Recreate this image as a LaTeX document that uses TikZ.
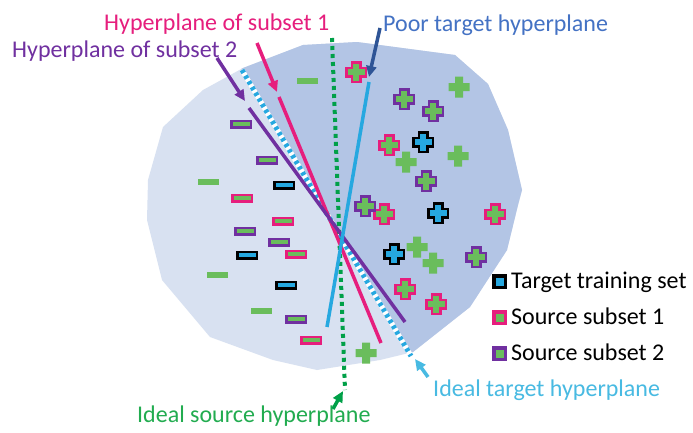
\documentclass[tikz,border=0pt]{standalone}
\usepackage{fontspec}
\setmainfont{Carlito}
\usetikzlibrary{arrows.meta}

\definecolor{blobl}{RGB}{216,225,241}
\definecolor{blobd}{RGB}{179,197,229}
\definecolor{ptgreen}{RGB}{106,189,92}
\definecolor{pinkc}{RGB}{230,30,125}
\definecolor{purplec}{RGB}{112,48,160}
\definecolor{skyc}{RGB}{38,168,224}
\definecolor{idealtc}{RGB}{72,186,226}
\definecolor{srcgreen}{RGB}{0,160,72}
\definecolor{srctext}{RGB}{34,172,80}
\definecolor{poorc}{RGB}{68,114,196}
\definecolor{poorarrow}{RGB}{46,84,150}

% outer outline of the data cloud
\newcommand\blobpath{(243,68) -- (303,45) -- (357,42) -- (455,55) -- (488,84) -- (508,130) -- (522,190) -- (518,205) -- (507,250) -- (470,307) -- (413,352) -- (380,360) -- (317,370) -- (273,360) -- (210,337) -- (162,280) -- (147,220) -- (148,180) -- (163,127) -- (203,90) -- cycle}

\tikzset{
  lbl/.style={inner sep=0pt, font=\fontsize{24}{28}\selectfont, anchor=base west},
  hyp/.style={line width=3.5pt},
  callout/.style={line width=3.5pt, -{Triangle[length=11pt,width=10pt]}},
  minusb/.style={rectangle, inner sep=0pt, minimum width=19.5pt, minimum height=6.5pt, line width=2.5pt, fill=ptgreen},
  minusp/.style={rectangle, inner sep=0pt, minimum width=21pt, minimum height=6pt, fill=ptgreen},
  legsq/.style={rectangle, inner sep=0pt, minimum size=11.5pt, line width=3.5pt},
  pics/crossb/.style 2 args={code={
    \filldraw[draw=#1, fill=#2, line width=2.5pt, line join=miter]
      (-9.75,-4.25) -- (-4.25,-4.25) -- (-4.25,-9.75) -- (4.25,-9.75) -- (4.25,-4.25) -- (9.75,-4.25)
      -- (9.75,4.25) -- (4.25,4.25) -- (4.25,9.75) -- (-4.25,9.75) -- (-4.25,4.25) -- (-9.75,4.25) -- cycle;}},
  pics/crossp/.style={code={
    \fill[ptgreen]
      (-10.5,-4) -- (-4,-4) -- (-4,-10.5) -- (4,-10.5) -- (4,-4) -- (10.5,-4)
      -- (10.5,4) -- (4,4) -- (4,10.5) -- (-4,10.5) -- (-4,4) -- (-10.5,4) -- cycle;}}
}

\begin{document}
\begin{tikzpicture}[x=1pt,y=-1pt]
\useasboundingbox[fill=white] (0,0) rectangle (693,432);

% light cloud, and its darker part right of the ideal target hyperplane
\fill[blobl] \blobpath;
\begin{scope}
  \clip (200.7,0) -- (693,0) -- (693,432) -- (455.4,432) -- cycle;
  \fill[blobd] \blobpath;
\end{scope}

% end points of the hyperplanes
\coordinate (it1) at (242,70);   \coordinate (it2) at (411,356);
\coordinate (is1) at (332,38);   \coordinate (is2) at (345,390);
\coordinate (s1a) at (279,97);   \coordinate (s1b) at (381,343);
\coordinate (s2a) at (249,108);  \coordinate (s2b) at (405,322);
\coordinate (pta) at (369,82);   \coordinate (ptb) at (327,327);

% ideal target hyperplane: cyan and white squares
\draw[white, line width=5pt] (it1) -- (it2);
\draw[skyc, line width=5pt, dash pattern=on 3.3pt off 3.3pt] (it1) -- (it2);
% ideal source hyperplane
\draw[srcgreen, line width=4pt, dash pattern=on 4pt off 4pt] (is1) -- (is2);
% hyperplanes of the subsets and the poor target one
\draw[hyp, pinkc] (s1a) -- (s1b);
\draw[hyp, purplec] (s2a) -- (s2b);
\draw[hyp, skyc] (pta) -- (ptb);

% negative samples
\foreach \x/\y [count=\i] in {307/81, 208/182, 217/275, 261/311}
  \node[minusp] (mg\i) at (\x,\y) {};
\foreach \x/\y [count=\i] in {241/124, 267/160, 245/231, 279/242, 296/319}
  \node[minusb, draw=purplec] (mv\i) at (\x,\y) {};
\foreach \x/\y [count=\i] in {242/198, 283/221, 296/254, 311/340}
  \node[minusb, draw=pinkc] (mk\i) at (\x,\y) {};
\foreach \x/\y [count=\i] in {284/185, 247/255, 286/285}
  \node[minusb, draw=black, fill=skyc] (mt\i) at (\x,\y) {};

% positive samples
\foreach \x/\y in {459/87, 406/162, 458/156, 417/247, 433/263, 366/353}
  \pic at (\x,\y) {crossp};
\foreach \x/\y in {356/72, 389/145, 384/214, 495/214, 405/289, 436/304}
  \pic at (\x,\y) {crossb={pinkc}{ptgreen}};
\foreach \x/\y in {404/99, 433/111, 426/181, 365/206, 476/257}
  \pic at (\x,\y) {crossb={purplec}{ptgreen}};
\foreach \x/\y in {423/142, 438/213, 394/254}
  \pic at (\x,\y) {crossb={black}{skyc}};

% labels
\node[lbl, text=pinkc] (lsub1) at (104,30) {Hyperplane of subset 1};
\node[lbl, text=purplec] (lsub2) at (12,57) {Hyperplane of subset 2};
\node[lbl, text=poorc] (lpoor) at (383,31) {Poor target hyperplane};
\node[lbl, text=srctext] (lsrc) at (137,422) {Ideal source hyperplane};
\node[lbl, text=idealtc] (ltgt) at (433,396) {Ideal target hyperplane};

% callout arrows
\coordinate (a1s) at (257,43);  \coordinate (a1e) at (277,92);
\coordinate (a2s) at (217,58);  \coordinate (a2e) at (245,101);
\coordinate (a3s) at (380,28);  \coordinate (a3e) at (369,77);
\coordinate (a4s) at (333,409); \coordinate (a4e) at (343,391);
\coordinate (a5s) at (428,377); \coordinate (a5e) at (415,359);
\draw[callout, pinkc] (a1s) -- (a1e);
\draw[callout, purplec] (a2s) -- (a2e);
\draw[callout, poorarrow] (a3s) -- (a3e);
\draw[callout, srcgreen] (a4s) -- (a4e);
\draw[callout, idealtc] (a5s) -- (a5e);

% legend
\node[legsq, draw=black, fill=skyc] (k1) at (499.5,281.5) {};
\node[legsq, draw=pinkc, fill=ptgreen] (k2) at (499.5,317.5) {};
\node[legsq, draw=purplec, fill=ptgreen] (k3) at (499.5,353.5) {};
\node[lbl] (t1) at (511,288) {Target training set};
\node[lbl] (t2) at (511,324) {Source subset 1};
\node[lbl] (t3) at (511,360) {Source subset 2};
\end{tikzpicture}
\end{document}
